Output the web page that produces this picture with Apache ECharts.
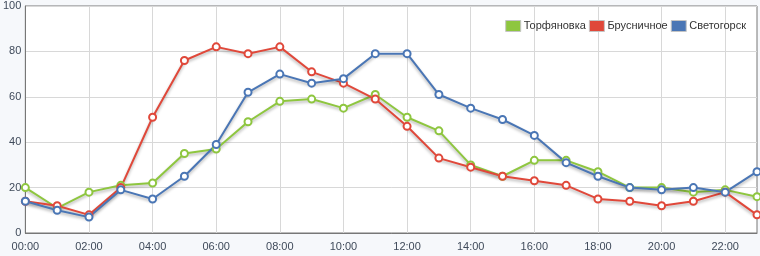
<!DOCTYPE html>
<html>
<head>
<meta charset="utf-8">
<script src="https://cdn.jsdelivr.net/npm/echarts@6/dist/echarts.min.js"></script>
<style>
html,body{margin:0;padding:0;background:#f6f8fb;}
#c{width:760px;height:256px;}
</style>
</head>
<body>
<div id="c"></div>
<script>
const categories = ["00:00","01:00","02:00","03:00","04:00","05:00","06:00","07:00","08:00","09:00","10:00","11:00","12:00","13:00","14:00","15:00","16:00","17:00","18:00","19:00","20:00","21:00","22:00","23:00"];
const seriesNames = ["Торфяновка","Брусничное","Светогорск"];
const torfyanovka = [20,11,18,21,22,35,37,49,58,59,55,61,51,45,30,25,32,32,27,20,20,18,19,16];
const brusnichnoe = [14,12,8,20,51,76,82,79,82,71,66,59,47,33,29,25,23,21,15,14,12,14,18,8];
const svetogorsk  = [14,10,7,19,15,25,39,62,70,66,68,79,79,61,55,50,43,31,25,20,19,20,18,27];
const colors = ["#8ec63f","#e0483a","#4a76b5"];
const values = [torfyanovka, brusnichnoe, svetogorsk];

const chart = echarts.init(document.getElementById('c'), null, {renderer:'canvas'});
const font = 'Liberation Sans, Arial, sans-serif';
chart.setOption({
  backgroundColor: '#f6f8fb',
  animation: false,
  color: colors,
  textStyle: {fontFamily: font},
  grid: {left: 24, right: 3, top: 6, bottom: 23, show: true, backgroundColor: '#ffffff', borderColor: '#777', borderWidth: 1},
  legend: {
    right: 9, top: 15, itemWidth: 15, itemHeight: 11, itemGap: 3,
    icon: 'rect',
    textStyle: {fontSize: 11, color: '#333', fontFamily: font, padding: [0,0,0,-2]},
    data: seriesNames.map((n, i) => ({name: n, itemStyle: {color: colors[i], borderColor: '#c4c4c4', borderWidth: 1}}))
  },
  xAxis: {
    type: 'category', data: categories, boundaryGap: false,
    axisLine: {lineStyle: {color: '#777', width: 1}},
    axisTick: {show: false},
    axisLabel: {interval: 1, color: '#3f4a5a', fontSize: 11, fontFamily: font, margin: 8},
    splitLine: {show: true, interval: 1, lineStyle: {color: '#d8d8d8', width: 1}}
  },
  yAxis: {
    type: 'value', min: 0, max: 100, interval: 20,
    axisLine: {show: true, lineStyle: {color: '#777', width: 1}},
    axisTick: {show: false},
    axisLabel: {color: '#3f4a5a', fontSize: 11, fontFamily: font, margin: 4},
    splitLine: {show: true, lineStyle: {color: '#d8d8d8', width: 1}}
  },
  series: seriesNames.map((n, i) => ({
    name: n, type: 'line', data: values[i],
    symbol: 'emptyCircle', symbolSize: 7, showAllSymbol: true,
    lineStyle: {width: 2, color: colors[i], shadowColor: 'rgba(0,0,0,0.3)', shadowBlur: 3, shadowOffsetY: 2},
    itemStyle: {color: colors[i], borderWidth: 2}
  }))
});
</script>
</body>
</html>
